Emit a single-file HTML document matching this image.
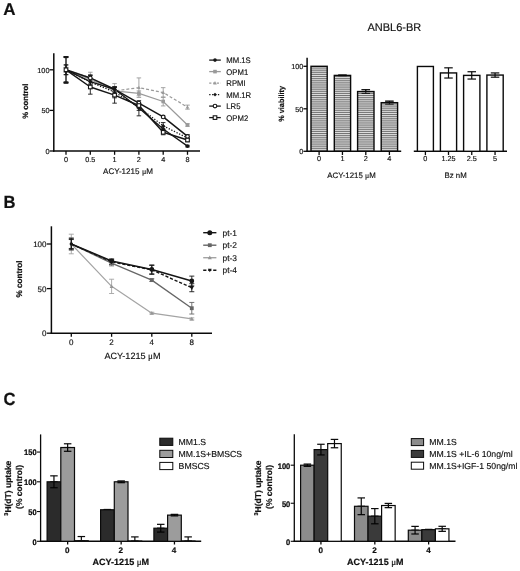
<!DOCTYPE html>
<html lang="en">
<head>
<meta charset="utf-8">
<title>Figure</title>
<style>
html,body{margin:0;padding:0;background:#fff;}
body{width:520px;height:571px;overflow:hidden;}
svg{display:block;font-family:'Liberation Sans', Arial, sans-serif;}
svg text{text-rendering:geometricPrecision;}
svg{will-change:transform;}
</style>
</head>
<body>
<svg width="520" height="571" viewBox="0 0 520 571">
<rect width="520" height="571" fill="#fff"/>
<text font-size="17" font-weight="bold" x="3.2" y="14.7" fill="#111" stroke="#111" stroke-width="0.2" >A</text>
<text font-size="17.6" font-weight="bold" textLength="12.0" lengthAdjust="spacingAndGlyphs" x="3.6" y="207.9" fill="#111" stroke="#111" stroke-width="0.2" >B</text>
<text font-size="17.6" font-weight="bold" textLength="12.0" lengthAdjust="spacingAndGlyphs" x="3.4" y="405.0" fill="#111" stroke="#111" stroke-width="0.2" >C</text>
<line x1="53.80" y1="53.30" x2="53.80" y2="151.70" stroke="#0a0a0a" stroke-width="1.5" stroke-linecap="butt"/>
<line x1="53.10" y1="151.00" x2="200.00" y2="151.00" stroke="#0a0a0a" stroke-width="1.5" stroke-linecap="butt"/>
<line x1="49.60" y1="151.00" x2="53.80" y2="151.00" stroke="#0a0a0a" stroke-width="1.3" stroke-linecap="butt"/>
<text font-size="7.3" text-anchor="end" x="49.5" y="154.0" fill="#111" stroke="#111" stroke-width="0.15" >0</text>
<line x1="49.60" y1="110.40" x2="53.80" y2="110.40" stroke="#0a0a0a" stroke-width="1.3" stroke-linecap="butt"/>
<text font-size="7.3" text-anchor="end" x="49.5" y="113.4" fill="#111" stroke="#111" stroke-width="0.15" >50</text>
<line x1="49.60" y1="69.80" x2="53.80" y2="69.80" stroke="#0a0a0a" stroke-width="1.3" stroke-linecap="butt"/>
<text font-size="7.3" text-anchor="end" x="49.5" y="72.8" fill="#111" stroke="#111" stroke-width="0.15" >100</text>
<line x1="66.00" y1="151.00" x2="66.00" y2="154.80" stroke="#0a0a0a" stroke-width="1.3" stroke-linecap="butt"/>
<text font-size="7.3" text-anchor="middle" x="66" y="161.7" fill="#111" stroke="#111" stroke-width="0.15" >0</text>
<line x1="90.30" y1="151.00" x2="90.30" y2="154.80" stroke="#0a0a0a" stroke-width="1.3" stroke-linecap="butt"/>
<text font-size="7.3" text-anchor="middle" x="90.3" y="161.7" fill="#111" stroke="#111" stroke-width="0.15" >0.5</text>
<line x1="114.60" y1="151.00" x2="114.60" y2="154.80" stroke="#0a0a0a" stroke-width="1.3" stroke-linecap="butt"/>
<text font-size="7.3" text-anchor="middle" x="114.6" y="161.7" fill="#111" stroke="#111" stroke-width="0.15" >1</text>
<line x1="138.90" y1="151.00" x2="138.90" y2="154.80" stroke="#0a0a0a" stroke-width="1.3" stroke-linecap="butt"/>
<text font-size="7.3" text-anchor="middle" x="138.9" y="161.7" fill="#111" stroke="#111" stroke-width="0.15" >2</text>
<line x1="163.20" y1="151.00" x2="163.20" y2="154.80" stroke="#0a0a0a" stroke-width="1.3" stroke-linecap="butt"/>
<text font-size="7.3" text-anchor="middle" x="163.2" y="161.7" fill="#111" stroke="#111" stroke-width="0.15" >4</text>
<line x1="187.50" y1="151.00" x2="187.50" y2="154.80" stroke="#0a0a0a" stroke-width="1.3" stroke-linecap="butt"/>
<text font-size="7.3" text-anchor="middle" x="187.5" y="161.7" fill="#111" stroke="#111" stroke-width="0.15" >8</text>
<text font-size="8.1" text-anchor="middle" x="128" y="174.2" fill="#111" stroke="#111" stroke-width="0.15" >ACY-1215 <tspan font-family="'Liberation Serif', 'DejaVu Serif', serif" font-weight="normal">μ</tspan>M</text>
<text font-size="7.75" font-weight="bold" text-anchor="middle" transform="translate(27.6 101.2) rotate(-90)" fill="#111" stroke="#111" stroke-width="0.2" >% control</text>
<line x1="66.00" y1="67.36" x2="66.00" y2="72.24" stroke="#9a9a9a" stroke-width="0.9" stroke-linecap="butt"/>
<line x1="63.75" y1="67.36" x2="68.25" y2="67.36" stroke="#9a9a9a" stroke-width="0.9" stroke-linecap="butt"/>
<line x1="63.75" y1="72.24" x2="68.25" y2="72.24" stroke="#9a9a9a" stroke-width="0.9" stroke-linecap="butt"/>
<line x1="90.30" y1="75.48" x2="90.30" y2="83.60" stroke="#9a9a9a" stroke-width="0.9" stroke-linecap="butt"/>
<line x1="88.05" y1="75.48" x2="92.55" y2="75.48" stroke="#9a9a9a" stroke-width="0.9" stroke-linecap="butt"/>
<line x1="88.05" y1="83.60" x2="92.55" y2="83.60" stroke="#9a9a9a" stroke-width="0.9" stroke-linecap="butt"/>
<line x1="114.60" y1="87.66" x2="114.60" y2="94.16" stroke="#9a9a9a" stroke-width="0.9" stroke-linecap="butt"/>
<line x1="112.35" y1="87.66" x2="116.85" y2="87.66" stroke="#9a9a9a" stroke-width="0.9" stroke-linecap="butt"/>
<line x1="112.35" y1="94.16" x2="116.85" y2="94.16" stroke="#9a9a9a" stroke-width="0.9" stroke-linecap="butt"/>
<line x1="138.90" y1="90.91" x2="138.90" y2="95.78" stroke="#9a9a9a" stroke-width="0.9" stroke-linecap="butt"/>
<line x1="136.65" y1="90.91" x2="141.15" y2="90.91" stroke="#9a9a9a" stroke-width="0.9" stroke-linecap="butt"/>
<line x1="136.65" y1="95.78" x2="141.15" y2="95.78" stroke="#9a9a9a" stroke-width="0.9" stroke-linecap="butt"/>
<line x1="163.20" y1="97.00" x2="163.20" y2="105.93" stroke="#9a9a9a" stroke-width="0.9" stroke-linecap="butt"/>
<line x1="160.95" y1="97.00" x2="165.45" y2="97.00" stroke="#9a9a9a" stroke-width="0.9" stroke-linecap="butt"/>
<line x1="160.95" y1="105.93" x2="165.45" y2="105.93" stroke="#9a9a9a" stroke-width="0.9" stroke-linecap="butt"/>
<line x1="187.50" y1="123.80" x2="187.50" y2="126.23" stroke="#9a9a9a" stroke-width="0.9" stroke-linecap="butt"/>
<line x1="185.25" y1="123.80" x2="189.75" y2="123.80" stroke="#9a9a9a" stroke-width="0.9" stroke-linecap="butt"/>
<line x1="185.25" y1="126.23" x2="189.75" y2="126.23" stroke="#9a9a9a" stroke-width="0.9" stroke-linecap="butt"/>
<line x1="66.00" y1="67.36" x2="66.00" y2="72.24" stroke="#9a9a9a" stroke-width="0.9" stroke-linecap="butt"/>
<line x1="63.75" y1="67.36" x2="68.25" y2="67.36" stroke="#9a9a9a" stroke-width="0.9" stroke-linecap="butt"/>
<line x1="63.75" y1="72.24" x2="68.25" y2="72.24" stroke="#9a9a9a" stroke-width="0.9" stroke-linecap="butt"/>
<line x1="90.30" y1="72.24" x2="90.30" y2="83.60" stroke="#9a9a9a" stroke-width="0.9" stroke-linecap="butt"/>
<line x1="88.05" y1="72.24" x2="92.55" y2="72.24" stroke="#9a9a9a" stroke-width="0.9" stroke-linecap="butt"/>
<line x1="88.05" y1="83.60" x2="92.55" y2="83.60" stroke="#9a9a9a" stroke-width="0.9" stroke-linecap="butt"/>
<line x1="114.60" y1="83.60" x2="114.60" y2="98.22" stroke="#9a9a9a" stroke-width="0.9" stroke-linecap="butt"/>
<line x1="112.35" y1="83.60" x2="116.85" y2="83.60" stroke="#9a9a9a" stroke-width="0.9" stroke-linecap="butt"/>
<line x1="112.35" y1="98.22" x2="116.85" y2="98.22" stroke="#9a9a9a" stroke-width="0.9" stroke-linecap="butt"/>
<line x1="138.90" y1="77.92" x2="138.90" y2="97.41" stroke="#9a9a9a" stroke-width="0.9" stroke-linecap="butt"/>
<line x1="136.65" y1="77.92" x2="141.15" y2="77.92" stroke="#9a9a9a" stroke-width="0.9" stroke-linecap="butt"/>
<line x1="136.65" y1="97.41" x2="141.15" y2="97.41" stroke="#9a9a9a" stroke-width="0.9" stroke-linecap="butt"/>
<line x1="163.20" y1="87.66" x2="163.20" y2="97.41" stroke="#9a9a9a" stroke-width="0.9" stroke-linecap="butt"/>
<line x1="160.95" y1="87.66" x2="165.45" y2="87.66" stroke="#9a9a9a" stroke-width="0.9" stroke-linecap="butt"/>
<line x1="160.95" y1="97.41" x2="165.45" y2="97.41" stroke="#9a9a9a" stroke-width="0.9" stroke-linecap="butt"/>
<line x1="187.50" y1="105.12" x2="187.50" y2="109.18" stroke="#9a9a9a" stroke-width="0.9" stroke-linecap="butt"/>
<line x1="185.25" y1="105.12" x2="189.75" y2="105.12" stroke="#9a9a9a" stroke-width="0.9" stroke-linecap="butt"/>
<line x1="185.25" y1="109.18" x2="189.75" y2="109.18" stroke="#9a9a9a" stroke-width="0.9" stroke-linecap="butt"/>
<line x1="66.00" y1="56.81" x2="66.00" y2="82.79" stroke="#161616" stroke-width="0.9" stroke-linecap="butt"/>
<line x1="63.75" y1="56.81" x2="68.25" y2="56.81" stroke="#161616" stroke-width="0.9" stroke-linecap="butt"/>
<line x1="63.75" y1="82.79" x2="68.25" y2="82.79" stroke="#161616" stroke-width="0.9" stroke-linecap="butt"/>
<line x1="63.70" y1="57.11" x2="68.30" y2="57.11" stroke="#161616" stroke-width="1.9" stroke-linecap="butt"/>
<line x1="63.70" y1="82.49" x2="68.30" y2="82.49" stroke="#161616" stroke-width="1.9" stroke-linecap="butt"/>
<line x1="90.30" y1="78.33" x2="90.30" y2="84.82" stroke="#161616" stroke-width="0.9" stroke-linecap="butt"/>
<line x1="88.05" y1="78.33" x2="92.55" y2="78.33" stroke="#161616" stroke-width="0.9" stroke-linecap="butt"/>
<line x1="88.05" y1="84.82" x2="92.55" y2="84.82" stroke="#161616" stroke-width="0.9" stroke-linecap="butt"/>
<line x1="114.60" y1="86.85" x2="114.60" y2="91.72" stroke="#161616" stroke-width="0.9" stroke-linecap="butt"/>
<line x1="112.35" y1="86.85" x2="116.85" y2="86.85" stroke="#161616" stroke-width="0.9" stroke-linecap="butt"/>
<line x1="112.35" y1="91.72" x2="116.85" y2="91.72" stroke="#161616" stroke-width="0.9" stroke-linecap="butt"/>
<line x1="138.90" y1="105.53" x2="138.90" y2="110.40" stroke="#161616" stroke-width="0.9" stroke-linecap="butt"/>
<line x1="136.65" y1="105.53" x2="141.15" y2="105.53" stroke="#161616" stroke-width="0.9" stroke-linecap="butt"/>
<line x1="136.65" y1="110.40" x2="141.15" y2="110.40" stroke="#161616" stroke-width="0.9" stroke-linecap="butt"/>
<line x1="163.20" y1="126.64" x2="163.20" y2="131.51" stroke="#161616" stroke-width="0.9" stroke-linecap="butt"/>
<line x1="160.95" y1="126.64" x2="165.45" y2="126.64" stroke="#161616" stroke-width="0.9" stroke-linecap="butt"/>
<line x1="160.95" y1="131.51" x2="165.45" y2="131.51" stroke="#161616" stroke-width="0.9" stroke-linecap="butt"/>
<line x1="187.50" y1="145.32" x2="187.50" y2="146.94" stroke="#161616" stroke-width="0.9" stroke-linecap="butt"/>
<line x1="185.25" y1="145.32" x2="189.75" y2="145.32" stroke="#161616" stroke-width="0.9" stroke-linecap="butt"/>
<line x1="185.25" y1="146.94" x2="189.75" y2="146.94" stroke="#161616" stroke-width="0.9" stroke-linecap="butt"/>
<line x1="66.00" y1="56.81" x2="66.00" y2="82.79" stroke="#161616" stroke-width="0.9" stroke-linecap="butt"/>
<line x1="63.75" y1="56.81" x2="68.25" y2="56.81" stroke="#161616" stroke-width="0.9" stroke-linecap="butt"/>
<line x1="63.75" y1="82.79" x2="68.25" y2="82.79" stroke="#161616" stroke-width="0.9" stroke-linecap="butt"/>
<line x1="63.70" y1="57.11" x2="68.30" y2="57.11" stroke="#161616" stroke-width="1.9" stroke-linecap="butt"/>
<line x1="63.70" y1="82.49" x2="68.30" y2="82.49" stroke="#161616" stroke-width="1.9" stroke-linecap="butt"/>
<line x1="90.30" y1="75.48" x2="90.30" y2="88.48" stroke="#161616" stroke-width="0.9" stroke-linecap="butt"/>
<line x1="88.05" y1="75.48" x2="92.55" y2="75.48" stroke="#161616" stroke-width="0.9" stroke-linecap="butt"/>
<line x1="88.05" y1="88.48" x2="92.55" y2="88.48" stroke="#161616" stroke-width="0.9" stroke-linecap="butt"/>
<line x1="114.60" y1="87.26" x2="114.60" y2="97.00" stroke="#161616" stroke-width="0.9" stroke-linecap="butt"/>
<line x1="112.35" y1="87.26" x2="116.85" y2="87.26" stroke="#161616" stroke-width="0.9" stroke-linecap="butt"/>
<line x1="112.35" y1="97.00" x2="116.85" y2="97.00" stroke="#161616" stroke-width="0.9" stroke-linecap="butt"/>
<line x1="138.90" y1="107.15" x2="138.90" y2="115.84" stroke="#161616" stroke-width="0.9" stroke-linecap="butt"/>
<line x1="136.65" y1="115.84" x2="141.15" y2="115.84" stroke="#161616" stroke-width="0.9" stroke-linecap="butt"/>
<line x1="163.20" y1="122.58" x2="163.20" y2="129.08" stroke="#161616" stroke-width="0.9" stroke-linecap="butt"/>
<line x1="160.95" y1="122.58" x2="165.45" y2="122.58" stroke="#161616" stroke-width="0.9" stroke-linecap="butt"/>
<line x1="160.95" y1="129.08" x2="165.45" y2="129.08" stroke="#161616" stroke-width="0.9" stroke-linecap="butt"/>
<line x1="187.50" y1="136.38" x2="187.50" y2="139.63" stroke="#161616" stroke-width="0.9" stroke-linecap="butt"/>
<line x1="185.25" y1="136.38" x2="189.75" y2="136.38" stroke="#161616" stroke-width="0.9" stroke-linecap="butt"/>
<line x1="185.25" y1="139.63" x2="189.75" y2="139.63" stroke="#161616" stroke-width="0.9" stroke-linecap="butt"/>
<line x1="66.00" y1="64.93" x2="66.00" y2="74.67" stroke="#161616" stroke-width="0.9" stroke-linecap="butt"/>
<line x1="63.75" y1="64.93" x2="68.25" y2="64.93" stroke="#161616" stroke-width="0.9" stroke-linecap="butt"/>
<line x1="63.75" y1="74.67" x2="68.25" y2="74.67" stroke="#161616" stroke-width="0.9" stroke-linecap="butt"/>
<line x1="90.30" y1="74.83" x2="90.30" y2="81.01" stroke="#161616" stroke-width="0.9" stroke-linecap="butt"/>
<line x1="88.05" y1="74.83" x2="92.55" y2="74.83" stroke="#161616" stroke-width="0.9" stroke-linecap="butt"/>
<line x1="88.05" y1="81.01" x2="92.55" y2="81.01" stroke="#161616" stroke-width="0.9" stroke-linecap="butt"/>
<line x1="114.60" y1="86.85" x2="114.60" y2="91.72" stroke="#161616" stroke-width="0.9" stroke-linecap="butt"/>
<line x1="112.35" y1="86.85" x2="116.85" y2="86.85" stroke="#161616" stroke-width="0.9" stroke-linecap="butt"/>
<line x1="112.35" y1="91.72" x2="116.85" y2="91.72" stroke="#161616" stroke-width="0.9" stroke-linecap="butt"/>
<line x1="138.90" y1="100.66" x2="138.90" y2="105.53" stroke="#161616" stroke-width="0.9" stroke-linecap="butt"/>
<line x1="136.65" y1="100.66" x2="141.15" y2="100.66" stroke="#161616" stroke-width="0.9" stroke-linecap="butt"/>
<line x1="136.65" y1="105.53" x2="141.15" y2="105.53" stroke="#161616" stroke-width="0.9" stroke-linecap="butt"/>
<line x1="163.20" y1="116.08" x2="163.20" y2="117.71" stroke="#161616" stroke-width="0.9" stroke-linecap="butt"/>
<line x1="160.95" y1="116.08" x2="165.45" y2="116.08" stroke="#161616" stroke-width="0.9" stroke-linecap="butt"/>
<line x1="160.95" y1="117.71" x2="165.45" y2="117.71" stroke="#161616" stroke-width="0.9" stroke-linecap="butt"/>
<line x1="187.50" y1="134.76" x2="187.50" y2="138.01" stroke="#161616" stroke-width="0.9" stroke-linecap="butt"/>
<line x1="185.25" y1="134.76" x2="189.75" y2="134.76" stroke="#161616" stroke-width="0.9" stroke-linecap="butt"/>
<line x1="185.25" y1="138.01" x2="189.75" y2="138.01" stroke="#161616" stroke-width="0.9" stroke-linecap="butt"/>
<line x1="66.00" y1="64.93" x2="66.00" y2="74.67" stroke="#161616" stroke-width="0.9" stroke-linecap="butt"/>
<line x1="63.75" y1="64.93" x2="68.25" y2="64.93" stroke="#161616" stroke-width="0.9" stroke-linecap="butt"/>
<line x1="63.75" y1="74.67" x2="68.25" y2="74.67" stroke="#161616" stroke-width="0.9" stroke-linecap="butt"/>
<line x1="90.30" y1="79.87" x2="90.30" y2="94.16" stroke="#161616" stroke-width="0.9" stroke-linecap="butt"/>
<line x1="88.05" y1="79.87" x2="92.55" y2="79.87" stroke="#161616" stroke-width="0.9" stroke-linecap="butt"/>
<line x1="88.05" y1="94.16" x2="92.55" y2="94.16" stroke="#161616" stroke-width="0.9" stroke-linecap="butt"/>
<line x1="114.60" y1="87.10" x2="114.60" y2="103.17" stroke="#161616" stroke-width="0.9" stroke-linecap="butt"/>
<line x1="112.35" y1="87.10" x2="116.85" y2="87.10" stroke="#161616" stroke-width="0.9" stroke-linecap="butt"/>
<line x1="112.35" y1="103.17" x2="116.85" y2="103.17" stroke="#161616" stroke-width="0.9" stroke-linecap="butt"/>
<line x1="138.90" y1="103.09" x2="138.90" y2="107.96" stroke="#161616" stroke-width="0.9" stroke-linecap="butt"/>
<line x1="136.65" y1="103.09" x2="141.15" y2="103.09" stroke="#161616" stroke-width="0.9" stroke-linecap="butt"/>
<line x1="136.65" y1="107.96" x2="141.15" y2="107.96" stroke="#161616" stroke-width="0.9" stroke-linecap="butt"/>
<line x1="163.20" y1="129.89" x2="163.20" y2="134.76" stroke="#161616" stroke-width="0.9" stroke-linecap="butt"/>
<line x1="160.95" y1="129.89" x2="165.45" y2="129.89" stroke="#161616" stroke-width="0.9" stroke-linecap="butt"/>
<line x1="160.95" y1="134.76" x2="165.45" y2="134.76" stroke="#161616" stroke-width="0.9" stroke-linecap="butt"/>
<line x1="187.50" y1="138.41" x2="187.50" y2="141.66" stroke="#161616" stroke-width="0.9" stroke-linecap="butt"/>
<line x1="185.25" y1="138.41" x2="189.75" y2="138.41" stroke="#161616" stroke-width="0.9" stroke-linecap="butt"/>
<line x1="185.25" y1="141.66" x2="189.75" y2="141.66" stroke="#161616" stroke-width="0.9" stroke-linecap="butt"/>
<polyline points="66.00,69.80 90.30,79.54 114.60,90.91 138.90,93.35 163.20,101.47 187.50,125.02" fill="none" stroke="#9a9a9a" stroke-width="1.2" stroke-linejoin="round"/>
<polyline points="66.00,69.80 90.30,77.92 114.60,90.91 138.90,87.66 163.20,92.54 187.50,107.15" fill="none" stroke="#9a9a9a" stroke-width="1.2" stroke-dasharray="3 2" stroke-linejoin="round"/>
<polyline points="66.00,69.80 90.30,81.57 114.60,89.29 138.90,107.96 163.20,129.08 187.50,146.13" fill="none" stroke="#161616" stroke-width="1.3" stroke-linejoin="round"/>
<polyline points="66.00,69.80 90.30,81.98 114.60,92.13 138.90,107.15 163.20,125.83 187.50,138.01" fill="none" stroke="#161616" stroke-width="1.3" stroke-dasharray="1.3 1.6" stroke-linejoin="round"/>
<polyline points="66.00,69.80 90.30,77.92 114.60,89.29 138.90,103.09 163.20,116.90 187.50,136.38" fill="none" stroke="#161616" stroke-width="1.5" stroke-linejoin="round"/>
<polyline points="66.00,69.80 90.30,87.01 114.60,95.13 138.90,105.53 163.20,132.32 187.50,140.04" fill="none" stroke="#161616" stroke-width="1.5" stroke-linejoin="round"/>
<rect x="88.50" y="77.74" width="3.6" height="3.6" fill="#9a9a9a"/>
<rect x="112.80" y="89.11" width="3.6" height="3.6" fill="#9a9a9a"/>
<rect x="137.10" y="91.55" width="3.6" height="3.6" fill="#9a9a9a"/>
<rect x="161.40" y="99.67" width="3.6" height="3.6" fill="#9a9a9a"/>
<rect x="185.70" y="123.22" width="3.6" height="3.6" fill="#9a9a9a"/>
<polygon points="90.30,75.94 92.10,79.36 88.50,79.36" fill="#9a9a9a"/>
<polygon points="114.60,88.93 116.40,92.35 112.80,92.35" fill="#9a9a9a"/>
<polygon points="138.90,85.68 140.70,89.10 137.10,89.10" fill="#9a9a9a"/>
<polygon points="163.20,90.56 165.00,93.98 161.40,93.98" fill="#9a9a9a"/>
<polygon points="187.50,105.17 189.30,108.59 185.70,108.59" fill="#9a9a9a"/>
<circle cx="90.30" cy="81.57" r="1.8" fill="#161616"/>
<circle cx="114.60" cy="89.29" r="1.8" fill="#161616"/>
<circle cx="138.90" cy="107.96" r="1.8" fill="#161616"/>
<circle cx="163.20" cy="129.08" r="1.8" fill="#161616"/>
<circle cx="187.50" cy="146.13" r="1.8" fill="#161616"/>
<polygon points="90.30,80.18 92.10,81.98 90.30,83.78 88.50,81.98" fill="#161616"/>
<polygon points="114.60,90.33 116.40,92.13 114.60,93.93 112.80,92.13" fill="#161616"/>
<polygon points="138.90,105.35 140.70,107.15 138.90,108.95 137.10,107.15" fill="#161616"/>
<polygon points="163.20,124.03 165.00,125.83 163.20,127.63 161.40,125.83" fill="#161616"/>
<polygon points="187.50,136.21 189.30,138.01 187.50,139.81 185.70,138.01" fill="#161616"/>
<circle cx="90.30" cy="77.92" r="1.8" fill="#fff" stroke="#161616" stroke-width="1.1"/>
<circle cx="114.60" cy="89.29" r="1.8" fill="#161616"/>
<circle cx="138.90" cy="103.09" r="1.8" fill="#fff" stroke="#161616" stroke-width="1.1"/>
<circle cx="163.20" cy="116.90" r="1.8" fill="#fff" stroke="#161616" stroke-width="1.1"/>
<circle cx="187.50" cy="136.38" r="1.8" fill="#fff" stroke="#161616" stroke-width="1.1"/>
<rect x="64.20" y="68.00" width="3.6" height="3.6" fill="#fff" stroke="#161616" stroke-width="1.1"/>
<rect x="88.50" y="85.21" width="3.6" height="3.6" fill="#fff" stroke="#161616" stroke-width="1.1"/>
<rect x="112.80" y="93.33" width="3.6" height="3.6" fill="#fff" stroke="#161616" stroke-width="1.1"/>
<rect x="137.10" y="103.73" width="3.6" height="3.6" fill="#fff" stroke="#161616" stroke-width="1.1"/>
<rect x="161.40" y="130.52" width="3.6" height="3.6" fill="#fff" stroke="#161616" stroke-width="1.1"/>
<rect x="185.70" y="138.24" width="3.6" height="3.6" fill="#fff" stroke="#161616" stroke-width="1.1"/>
<line x1="209.20" y1="60.10" x2="220.80" y2="60.10" stroke="#161616" stroke-width="1.3" stroke-linecap="butt"/>
<circle cx="215.00" cy="60.10" r="1.8" fill="#161616"/>
<text font-size="8.1" transform="translate(226.3 63.0) scale(0.955 1)" fill="#111" stroke="#111" stroke-width="0.15" >MM.1S</text>
<line x1="209.20" y1="71.60" x2="220.80" y2="71.60" stroke="#9a9a9a" stroke-width="1.3" stroke-linecap="butt"/>
<rect x="213.20" y="69.80" width="3.6" height="3.6" fill="#9a9a9a"/>
<text font-size="8.1" transform="translate(226.3 74.5) scale(0.955 1)" fill="#111" stroke="#111" stroke-width="0.15" >OPM1</text>
<line x1="209.20" y1="83.10" x2="220.80" y2="83.10" stroke="#9a9a9a" stroke-width="1.3" stroke-dasharray="2.2 1.6" stroke-linecap="butt"/>
<polygon points="215.00,81.12 216.80,84.54 213.20,84.54" fill="#9a9a9a"/>
<text font-size="8.1" transform="translate(226.3 86.0) scale(0.955 1)" fill="#111" stroke="#111" stroke-width="0.15" >RPMI</text>
<line x1="209.20" y1="94.60" x2="220.80" y2="94.60" stroke="#161616" stroke-width="1.3" stroke-dasharray="1.3 1.6" stroke-linecap="butt"/>
<polygon points="215.00,92.80 216.80,94.60 215.00,96.40 213.20,94.60" fill="#161616"/>
<text font-size="8.1" transform="translate(226.3 97.5) scale(0.955 1)" fill="#111" stroke="#111" stroke-width="0.15" >MM.1R</text>
<line x1="209.20" y1="106.10" x2="220.80" y2="106.10" stroke="#161616" stroke-width="1.3" stroke-linecap="butt"/>
<circle cx="215.00" cy="106.10" r="1.8" fill="#fff" stroke="#161616" stroke-width="1.1"/>
<text font-size="8.1" transform="translate(226.3 109.0) scale(0.955 1)" fill="#111" stroke="#111" stroke-width="0.15" >LR5</text>
<line x1="209.20" y1="117.60" x2="220.80" y2="117.60" stroke="#161616" stroke-width="1.3" stroke-linecap="butt"/>
<rect x="213.20" y="115.80" width="3.6" height="3.6" fill="#fff" stroke="#161616" stroke-width="1.1"/>
<text font-size="8.1" transform="translate(226.3 120.5) scale(0.955 1)" fill="#111" stroke="#111" stroke-width="0.15" >OPM2</text>
<text font-size="11" text-anchor="middle" x="394.4" y="30.8" fill="#111" stroke="#111" stroke-width="0.15" >ANBL6-BR</text>
<defs><pattern id="hz" width="4" height="1.9" patternUnits="userSpaceOnUse"><rect width="4" height="1.9" fill="#e0e0e0"/><rect y="0" width="4" height="0.8" fill="#5c5c5c"/></pattern></defs>
<line x1="307.10" y1="57.80" x2="307.10" y2="152.00" stroke="#0a0a0a" stroke-width="1.5" stroke-linecap="butt"/>
<line x1="306.40" y1="151.30" x2="401.20" y2="151.30" stroke="#0a0a0a" stroke-width="1.6" stroke-linecap="butt"/>
<line x1="303.40" y1="151.30" x2="307.10" y2="151.30" stroke="#0a0a0a" stroke-width="1.3" stroke-linecap="butt"/>
<text font-size="7.3" text-anchor="end" x="303.40000000000003" y="154.20000000000002" fill="#111" stroke="#111" stroke-width="0.15" >0</text>
<line x1="303.40" y1="108.80" x2="307.10" y2="108.80" stroke="#0a0a0a" stroke-width="1.3" stroke-linecap="butt"/>
<text font-size="7.3" text-anchor="end" x="303.40000000000003" y="111.70000000000002" fill="#111" stroke="#111" stroke-width="0.15" >50</text>
<line x1="303.40" y1="66.30" x2="307.10" y2="66.30" stroke="#0a0a0a" stroke-width="1.3" stroke-linecap="butt"/>
<text font-size="7.3" text-anchor="end" x="303.40000000000003" y="69.20000000000002" fill="#111" stroke="#111" stroke-width="0.15" >100</text>
<rect x="311" y="66.30" width="16.20" height="85.00" fill="url(#hz)" stroke="#0a0a0a" stroke-width="1.4"/>
<line x1="319.10" y1="151.30" x2="319.10" y2="155.00" stroke="#0a0a0a" stroke-width="1.3" stroke-linecap="butt"/>
<text font-size="7.3" text-anchor="middle" x="319.1" y="161.3" fill="#111" stroke="#111" stroke-width="0.15" >0</text>
<line x1="342.45" y1="75.06" x2="342.45" y2="75.74" stroke="#0a0a0a" stroke-width="0.9" stroke-linecap="butt"/>
<line x1="338.20" y1="75.06" x2="346.70" y2="75.06" stroke="#0a0a0a" stroke-width="0.9" stroke-linecap="butt"/>
<line x1="338.20" y1="75.74" x2="346.70" y2="75.74" stroke="#0a0a0a" stroke-width="0.9" stroke-linecap="butt"/>
<rect x="334.3" y="75.40" width="16.30" height="75.91" fill="url(#hz)" stroke="#0a0a0a" stroke-width="1.4"/>
<line x1="342.45" y1="75.06" x2="342.45" y2="75.74" stroke="#0a0a0a" stroke-width="0.9" stroke-linecap="butt"/>
<line x1="338.20" y1="75.06" x2="346.70" y2="75.06" stroke="#0a0a0a" stroke-width="0.9" stroke-linecap="butt"/>
<line x1="338.20" y1="75.74" x2="346.70" y2="75.74" stroke="#0a0a0a" stroke-width="0.9" stroke-linecap="butt"/>
<line x1="342.45" y1="151.30" x2="342.45" y2="155.00" stroke="#0a0a0a" stroke-width="1.3" stroke-linecap="butt"/>
<text font-size="7.3" text-anchor="middle" x="342.45000000000005" y="161.3" fill="#111" stroke="#111" stroke-width="0.15" >1</text>
<line x1="365.80" y1="89.68" x2="365.80" y2="93.42" stroke="#0a0a0a" stroke-width="0.9" stroke-linecap="butt"/>
<line x1="361.55" y1="89.68" x2="370.05" y2="89.68" stroke="#0a0a0a" stroke-width="0.9" stroke-linecap="butt"/>
<line x1="361.55" y1="93.42" x2="370.05" y2="93.42" stroke="#0a0a0a" stroke-width="0.9" stroke-linecap="butt"/>
<rect x="357.6" y="91.55" width="16.40" height="59.75" fill="url(#hz)" stroke="#0a0a0a" stroke-width="1.4"/>
<line x1="365.80" y1="89.68" x2="365.80" y2="93.42" stroke="#0a0a0a" stroke-width="0.9" stroke-linecap="butt"/>
<line x1="361.55" y1="89.68" x2="370.05" y2="89.68" stroke="#0a0a0a" stroke-width="0.9" stroke-linecap="butt"/>
<line x1="361.55" y1="93.42" x2="370.05" y2="93.42" stroke="#0a0a0a" stroke-width="0.9" stroke-linecap="butt"/>
<line x1="365.80" y1="151.30" x2="365.80" y2="155.00" stroke="#0a0a0a" stroke-width="1.3" stroke-linecap="butt"/>
<text font-size="7.3" text-anchor="middle" x="365.8" y="161.3" fill="#111" stroke="#111" stroke-width="0.15" >2</text>
<line x1="389.40" y1="101.15" x2="389.40" y2="104.21" stroke="#0a0a0a" stroke-width="0.9" stroke-linecap="butt"/>
<line x1="385.15" y1="101.15" x2="393.65" y2="101.15" stroke="#0a0a0a" stroke-width="0.9" stroke-linecap="butt"/>
<line x1="385.15" y1="104.21" x2="393.65" y2="104.21" stroke="#0a0a0a" stroke-width="0.9" stroke-linecap="butt"/>
<rect x="381.2" y="102.68" width="16.40" height="48.62" fill="url(#hz)" stroke="#0a0a0a" stroke-width="1.4"/>
<line x1="389.40" y1="101.15" x2="389.40" y2="104.21" stroke="#0a0a0a" stroke-width="0.9" stroke-linecap="butt"/>
<line x1="385.15" y1="101.15" x2="393.65" y2="101.15" stroke="#0a0a0a" stroke-width="0.9" stroke-linecap="butt"/>
<line x1="385.15" y1="104.21" x2="393.65" y2="104.21" stroke="#0a0a0a" stroke-width="0.9" stroke-linecap="butt"/>
<line x1="389.40" y1="151.30" x2="389.40" y2="155.00" stroke="#0a0a0a" stroke-width="1.3" stroke-linecap="butt"/>
<text font-size="7.3" text-anchor="middle" x="389.4" y="161.3" fill="#111" stroke="#111" stroke-width="0.15" >4</text>
<text font-size="7.85" text-anchor="middle" x="351.5" y="178.4" fill="#111" stroke="#111" stroke-width="0.15" >ACY-1215 <tspan font-family="'Liberation Serif', 'DejaVu Serif', serif" font-weight="normal">μ</tspan>M</text>
<text font-size="7.6" font-weight="bold" text-anchor="middle" textLength="35.8" lengthAdjust="spacingAndGlyphs" transform="translate(284.4 103.9) rotate(-90)" fill="#111" stroke="#111" stroke-width="0.2" >% viability</text>
<line x1="413.80" y1="151.30" x2="507.00" y2="151.30" stroke="#0a0a0a" stroke-width="1.6" stroke-linecap="butt"/>
<rect x="417.4" y="66.47" width="16.00" height="84.83" fill="#fff" stroke="#0a0a0a" stroke-width="1.4"/>
<line x1="425.40" y1="151.30" x2="425.40" y2="155.00" stroke="#0a0a0a" stroke-width="1.3" stroke-linecap="butt"/>
<text font-size="7.3" text-anchor="middle" x="425.4" y="161.3" fill="#111" stroke="#111" stroke-width="0.15" >0</text>
<rect x="440.4" y="72.93" width="16.20" height="78.37" fill="#fff" stroke="#0a0a0a" stroke-width="1.4"/>
<line x1="448.50" y1="67.83" x2="448.50" y2="78.03" stroke="#0a0a0a" stroke-width="1.2" stroke-linecap="butt"/>
<line x1="444.25" y1="67.83" x2="452.75" y2="67.83" stroke="#0a0a0a" stroke-width="1.2" stroke-linecap="butt"/>
<line x1="444.25" y1="78.03" x2="452.75" y2="78.03" stroke="#0a0a0a" stroke-width="1.2" stroke-linecap="butt"/>
<line x1="448.50" y1="151.30" x2="448.50" y2="155.00" stroke="#0a0a0a" stroke-width="1.3" stroke-linecap="butt"/>
<text font-size="7.3" text-anchor="middle" x="448.5" y="161.3" fill="#111" stroke="#111" stroke-width="0.15" >1.25</text>
<rect x="463.6" y="75.40" width="16.30" height="75.91" fill="#fff" stroke="#0a0a0a" stroke-width="1.4"/>
<line x1="471.75" y1="71.74" x2="471.75" y2="79.05" stroke="#0a0a0a" stroke-width="1.2" stroke-linecap="butt"/>
<line x1="467.50" y1="71.74" x2="476.00" y2="71.74" stroke="#0a0a0a" stroke-width="1.2" stroke-linecap="butt"/>
<line x1="467.50" y1="79.05" x2="476.00" y2="79.05" stroke="#0a0a0a" stroke-width="1.2" stroke-linecap="butt"/>
<line x1="471.75" y1="151.30" x2="471.75" y2="155.00" stroke="#0a0a0a" stroke-width="1.3" stroke-linecap="butt"/>
<text font-size="7.3" text-anchor="middle" x="471.75" y="161.3" fill="#111" stroke="#111" stroke-width="0.15" >2.5</text>
<rect x="486.9" y="75.06" width="16.30" height="76.25" fill="#fff" stroke="#0a0a0a" stroke-width="1.4"/>
<line x1="495.05" y1="72.93" x2="495.05" y2="77.18" stroke="#0a0a0a" stroke-width="1.2" stroke-linecap="butt"/>
<line x1="490.80" y1="72.93" x2="499.30" y2="72.93" stroke="#0a0a0a" stroke-width="1.2" stroke-linecap="butt"/>
<line x1="490.80" y1="77.18" x2="499.30" y2="77.18" stroke="#0a0a0a" stroke-width="1.2" stroke-linecap="butt"/>
<line x1="495.05" y1="151.30" x2="495.05" y2="155.00" stroke="#0a0a0a" stroke-width="1.3" stroke-linecap="butt"/>
<text font-size="7.3" text-anchor="middle" x="495.04999999999995" y="161.3" fill="#111" stroke="#111" stroke-width="0.15" >5</text>
<text font-size="7.85" text-anchor="middle" x="455.6" y="178.4" fill="#111" stroke="#111" stroke-width="0.15" >Bz nM</text>
<line x1="51.40" y1="226.30" x2="51.40" y2="333.90" stroke="#0a0a0a" stroke-width="1.5" stroke-linecap="butt"/>
<line x1="50.70" y1="333.20" x2="212.00" y2="333.20" stroke="#0a0a0a" stroke-width="1.5" stroke-linecap="butt"/>
<line x1="46.80" y1="333.20" x2="51.40" y2="333.20" stroke="#0a0a0a" stroke-width="1.3" stroke-linecap="butt"/>
<text font-size="8" text-anchor="end" x="46.5" y="336.4" fill="#111" stroke="#111" stroke-width="0.15" >0</text>
<line x1="46.80" y1="288.60" x2="51.40" y2="288.60" stroke="#0a0a0a" stroke-width="1.3" stroke-linecap="butt"/>
<text font-size="8" text-anchor="end" x="46.5" y="291.79999999999995" fill="#111" stroke="#111" stroke-width="0.15" >50</text>
<line x1="46.80" y1="244.00" x2="51.40" y2="244.00" stroke="#0a0a0a" stroke-width="1.3" stroke-linecap="butt"/>
<text font-size="8" text-anchor="end" x="46.5" y="247.2" fill="#111" stroke="#111" stroke-width="0.15" >100</text>
<line x1="71.30" y1="333.20" x2="71.30" y2="336.80" stroke="#0a0a0a" stroke-width="1.3" stroke-linecap="butt"/>
<text font-size="8" text-anchor="middle" x="71.3" y="344.59999999999997" fill="#111" stroke="#111" stroke-width="0.15" >0</text>
<line x1="111.60" y1="333.20" x2="111.60" y2="336.80" stroke="#0a0a0a" stroke-width="1.3" stroke-linecap="butt"/>
<text font-size="8" text-anchor="middle" x="111.6" y="344.59999999999997" fill="#111" stroke="#111" stroke-width="0.15" >2</text>
<line x1="151.80" y1="333.20" x2="151.80" y2="336.80" stroke="#0a0a0a" stroke-width="1.3" stroke-linecap="butt"/>
<text font-size="8" text-anchor="middle" x="151.8" y="344.59999999999997" fill="#111" stroke="#111" stroke-width="0.15" >4</text>
<line x1="191.80" y1="333.20" x2="191.80" y2="336.80" stroke="#0a0a0a" stroke-width="1.3" stroke-linecap="butt"/>
<text font-size="8" text-anchor="middle" x="191.8" y="344.59999999999997" fill="#111" stroke="#111" stroke-width="0.15" >8</text>
<text font-size="9.1" text-anchor="middle" x="132.5" y="359.3" fill="#111" stroke="#111" stroke-width="0.15" >ACY-1215 <tspan font-family="'Liberation Serif', 'DejaVu Serif', serif" font-weight="normal">μ</tspan>M</text>
<text font-size="8.15" font-weight="bold" text-anchor="middle" transform="translate(21.9 279) rotate(-90)" fill="#111" stroke="#111" stroke-width="0.2" >% control</text>
<line x1="71.30" y1="234.19" x2="71.30" y2="253.81" stroke="#a4a4a4" stroke-width="0.9" stroke-linecap="butt"/>
<line x1="68.80" y1="234.19" x2="73.80" y2="234.19" stroke="#a4a4a4" stroke-width="0.9" stroke-linecap="butt"/>
<line x1="68.80" y1="253.81" x2="73.80" y2="253.81" stroke="#a4a4a4" stroke-width="0.9" stroke-linecap="butt"/>
<line x1="111.60" y1="279.23" x2="111.60" y2="293.51" stroke="#a4a4a4" stroke-width="0.9" stroke-linecap="butt"/>
<line x1="109.10" y1="279.23" x2="114.10" y2="279.23" stroke="#a4a4a4" stroke-width="0.9" stroke-linecap="butt"/>
<line x1="109.10" y1="293.51" x2="114.10" y2="293.51" stroke="#a4a4a4" stroke-width="0.9" stroke-linecap="butt"/>
<line x1="151.80" y1="312.24" x2="151.80" y2="314.02" stroke="#a4a4a4" stroke-width="0.9" stroke-linecap="butt"/>
<line x1="149.30" y1="312.24" x2="154.30" y2="312.24" stroke="#a4a4a4" stroke-width="0.9" stroke-linecap="butt"/>
<line x1="149.30" y1="314.02" x2="154.30" y2="314.02" stroke="#a4a4a4" stroke-width="0.9" stroke-linecap="butt"/>
<line x1="191.80" y1="317.86" x2="191.80" y2="320.00" stroke="#a4a4a4" stroke-width="0.9" stroke-linecap="butt"/>
<line x1="189.30" y1="317.86" x2="194.30" y2="317.86" stroke="#a4a4a4" stroke-width="0.9" stroke-linecap="butt"/>
<line x1="189.30" y1="320.00" x2="194.30" y2="320.00" stroke="#a4a4a4" stroke-width="0.9" stroke-linecap="butt"/>
<line x1="71.30" y1="237.76" x2="71.30" y2="250.24" stroke="#666" stroke-width="0.9" stroke-linecap="butt"/>
<line x1="68.80" y1="237.76" x2="73.80" y2="237.76" stroke="#666" stroke-width="0.9" stroke-linecap="butt"/>
<line x1="68.80" y1="250.24" x2="73.80" y2="250.24" stroke="#666" stroke-width="0.9" stroke-linecap="butt"/>
<line x1="111.60" y1="260.50" x2="111.60" y2="265.85" stroke="#666" stroke-width="0.9" stroke-linecap="butt"/>
<line x1="109.10" y1="260.50" x2="114.10" y2="260.50" stroke="#666" stroke-width="0.9" stroke-linecap="butt"/>
<line x1="109.10" y1="265.85" x2="114.10" y2="265.85" stroke="#666" stroke-width="0.9" stroke-linecap="butt"/>
<line x1="151.80" y1="278.79" x2="151.80" y2="281.46" stroke="#666" stroke-width="0.9" stroke-linecap="butt"/>
<line x1="149.30" y1="278.79" x2="154.30" y2="278.79" stroke="#666" stroke-width="0.9" stroke-linecap="butt"/>
<line x1="149.30" y1="281.46" x2="154.30" y2="281.46" stroke="#666" stroke-width="0.9" stroke-linecap="butt"/>
<line x1="191.80" y1="302.43" x2="191.80" y2="314.02" stroke="#666" stroke-width="0.9" stroke-linecap="butt"/>
<line x1="189.30" y1="302.43" x2="194.30" y2="302.43" stroke="#666" stroke-width="0.9" stroke-linecap="butt"/>
<line x1="189.30" y1="314.02" x2="194.30" y2="314.02" stroke="#666" stroke-width="0.9" stroke-linecap="butt"/>
<line x1="71.30" y1="238.65" x2="71.30" y2="249.35" stroke="#161616" stroke-width="0.9" stroke-linecap="butt"/>
<line x1="68.80" y1="238.65" x2="73.80" y2="238.65" stroke="#161616" stroke-width="0.9" stroke-linecap="butt"/>
<line x1="68.80" y1="249.35" x2="73.80" y2="249.35" stroke="#161616" stroke-width="0.9" stroke-linecap="butt"/>
<line x1="111.60" y1="259.16" x2="111.60" y2="264.52" stroke="#161616" stroke-width="0.9" stroke-linecap="butt"/>
<line x1="109.10" y1="259.16" x2="114.10" y2="259.16" stroke="#161616" stroke-width="0.9" stroke-linecap="butt"/>
<line x1="109.10" y1="264.52" x2="114.10" y2="264.52" stroke="#161616" stroke-width="0.9" stroke-linecap="butt"/>
<line x1="151.80" y1="265.41" x2="151.80" y2="274.33" stroke="#161616" stroke-width="0.9" stroke-linecap="butt"/>
<line x1="149.30" y1="265.41" x2="154.30" y2="265.41" stroke="#161616" stroke-width="0.9" stroke-linecap="butt"/>
<line x1="149.30" y1="274.33" x2="154.30" y2="274.33" stroke="#161616" stroke-width="0.9" stroke-linecap="butt"/>
<line x1="191.80" y1="283.69" x2="191.80" y2="291.72" stroke="#161616" stroke-width="0.9" stroke-linecap="butt"/>
<line x1="189.30" y1="283.69" x2="194.30" y2="283.69" stroke="#161616" stroke-width="0.9" stroke-linecap="butt"/>
<line x1="189.30" y1="291.72" x2="194.30" y2="291.72" stroke="#161616" stroke-width="0.9" stroke-linecap="butt"/>
<line x1="71.30" y1="239.54" x2="71.30" y2="248.46" stroke="#161616" stroke-width="0.9" stroke-linecap="butt"/>
<line x1="68.80" y1="239.54" x2="73.80" y2="239.54" stroke="#161616" stroke-width="0.9" stroke-linecap="butt"/>
<line x1="68.80" y1="248.46" x2="73.80" y2="248.46" stroke="#161616" stroke-width="0.9" stroke-linecap="butt"/>
<line x1="111.60" y1="259.16" x2="111.60" y2="262.73" stroke="#161616" stroke-width="0.9" stroke-linecap="butt"/>
<line x1="109.10" y1="259.16" x2="114.10" y2="259.16" stroke="#161616" stroke-width="0.9" stroke-linecap="butt"/>
<line x1="109.10" y1="262.73" x2="114.10" y2="262.73" stroke="#161616" stroke-width="0.9" stroke-linecap="butt"/>
<line x1="151.80" y1="264.96" x2="151.80" y2="273.88" stroke="#161616" stroke-width="0.9" stroke-linecap="butt"/>
<line x1="149.30" y1="264.96" x2="154.30" y2="264.96" stroke="#161616" stroke-width="0.9" stroke-linecap="butt"/>
<line x1="149.30" y1="273.88" x2="154.30" y2="273.88" stroke="#161616" stroke-width="0.9" stroke-linecap="butt"/>
<line x1="191.80" y1="276.11" x2="191.80" y2="285.92" stroke="#161616" stroke-width="0.9" stroke-linecap="butt"/>
<line x1="189.30" y1="276.11" x2="194.30" y2="276.11" stroke="#161616" stroke-width="0.9" stroke-linecap="butt"/>
<line x1="189.30" y1="285.92" x2="194.30" y2="285.92" stroke="#161616" stroke-width="0.9" stroke-linecap="butt"/>
<polyline points="71.30,244.00 111.60,286.37 151.80,313.13 191.80,318.93" fill="none" stroke="#a4a4a4" stroke-width="1.2" stroke-linejoin="round"/>
<polyline points="71.30,244.00 111.60,263.18 151.80,280.13 191.80,308.22" fill="none" stroke="#666" stroke-width="1.3" stroke-linejoin="round"/>
<polyline points="71.30,244.00 111.60,261.84 151.80,269.87 191.80,287.71" fill="none" stroke="#161616" stroke-width="1.4" stroke-dasharray="3.2 1.8" stroke-linejoin="round"/>
<polyline points="71.30,244.00 111.60,260.95 151.80,269.42 191.80,281.02" fill="none" stroke="#161616" stroke-width="1.5" stroke-linejoin="round"/>
<polygon points="111.60,284.17 113.60,287.97 109.60,287.97" fill="#969696"/>
<polygon points="151.80,310.93 153.80,314.73 149.80,314.73" fill="#969696"/>
<polygon points="191.80,316.73 193.80,320.53 189.80,320.53" fill="#969696"/>
<rect x="109.70" y="261.28" width="3.8" height="3.8" fill="#666"/>
<rect x="149.90" y="278.23" width="3.8" height="3.8" fill="#666"/>
<rect x="189.90" y="306.32" width="3.8" height="3.8" fill="#666"/>
<polygon points="111.60,264.26 113.80,260.08 109.40,260.08" fill="#161616"/>
<polygon points="151.80,272.29 154.00,268.11 149.60,268.11" fill="#161616"/>
<polygon points="191.80,290.13 194.00,285.95 189.60,285.95" fill="#161616"/>
<circle cx="71.30" cy="244.00" r="1.7" fill="#161616"/>
<circle cx="111.60" cy="260.95" r="2.4" fill="#161616"/>
<circle cx="151.80" cy="269.42" r="2.4" fill="#161616"/>
<circle cx="191.80" cy="281.02" r="2.4" fill="#161616"/>
<line x1="203.20" y1="232.70" x2="216.40" y2="232.70" stroke="#161616" stroke-width="1.4" stroke-linecap="butt"/>
<circle cx="209.80" cy="232.70" r="2.5" fill="#161616"/>
<text font-size="8.4" x="222.5" y="235.7" fill="#111" stroke="#111" stroke-width="0.15" >pt-1</text>
<line x1="203.20" y1="245.20" x2="216.40" y2="245.20" stroke="#666" stroke-width="1.4" stroke-linecap="butt"/>
<rect x="207.90" y="243.30" width="3.8" height="3.8" fill="#666"/>
<text font-size="8.4" x="222.5" y="248.2" fill="#111" stroke="#111" stroke-width="0.15" >pt-2</text>
<line x1="203.20" y1="257.70" x2="216.40" y2="257.70" stroke="#a4a4a4" stroke-width="1.4" stroke-linecap="butt"/>
<polygon points="209.80,255.50 211.80,259.30 207.80,259.30" fill="#969696"/>
<text font-size="8.4" x="222.5" y="260.7" fill="#111" stroke="#111" stroke-width="0.15" >pt-3</text>
<line x1="203.20" y1="270.20" x2="216.40" y2="270.20" stroke="#161616" stroke-width="1.4" stroke-dasharray="3.2 1.8" stroke-linecap="butt"/>
<polygon points="209.80,272.29 211.70,268.68 207.90,268.68" fill="#161616"/>
<text font-size="8.4" x="222.5" y="273.2" fill="#111" stroke="#111" stroke-width="0.15" >pt-4</text>
<line x1="40.60" y1="434.40" x2="40.60" y2="542.00" stroke="#0a0a0a" stroke-width="1.3" stroke-linecap="butt"/>
<line x1="39.90" y1="541.30" x2="201.20" y2="541.30" stroke="#0a0a0a" stroke-width="1.4" stroke-linecap="butt"/>
<line x1="37.00" y1="541.30" x2="40.60" y2="541.30" stroke="#0a0a0a" stroke-width="1.1" stroke-linecap="butt"/>
<text font-size="8.1" font-weight="bold" text-anchor="end" transform="translate(36.6 544.6999999999999) scale(0.93 1)" fill="#050505" stroke="#050505" stroke-width="0.2" >0</text>
<line x1="37.00" y1="511.55" x2="40.60" y2="511.55" stroke="#0a0a0a" stroke-width="1.1" stroke-linecap="butt"/>
<text font-size="8.1" font-weight="bold" text-anchor="end" transform="translate(36.6 514.9499999999999) scale(0.93 1)" fill="#050505" stroke="#050505" stroke-width="0.2" >50</text>
<line x1="37.00" y1="481.80" x2="40.60" y2="481.80" stroke="#0a0a0a" stroke-width="1.1" stroke-linecap="butt"/>
<text font-size="8.1" font-weight="bold" text-anchor="end" transform="translate(36.6 485.19999999999993) scale(0.93 1)" fill="#050505" stroke="#050505" stroke-width="0.2" >100</text>
<line x1="37.00" y1="452.05" x2="40.60" y2="452.05" stroke="#0a0a0a" stroke-width="1.1" stroke-linecap="butt"/>
<text font-size="8.1" font-weight="bold" text-anchor="end" transform="translate(36.6 455.44999999999993) scale(0.93 1)" fill="#050505" stroke="#050505" stroke-width="0.2" >150</text>
<line x1="53.95" y1="475.85" x2="53.95" y2="481.80" stroke="#0a0a0a" stroke-width="1.2" stroke-linecap="butt"/>
<line x1="50.20" y1="475.85" x2="57.70" y2="475.85" stroke="#0a0a0a" stroke-width="1.2" stroke-linecap="butt"/>
<line x1="50.20" y1="481.80" x2="57.70" y2="481.80" stroke="#0a0a0a" stroke-width="1.2" stroke-linecap="butt"/>
<rect x="47.10" y="481.80" width="13.7" height="59.50" fill="#2b2b2b" stroke="#0a0a0a" stroke-width="1.2"/>
<line x1="53.95" y1="481.80" x2="53.95" y2="487.75" stroke="#000" stroke-width="1.2" stroke-linecap="butt"/>
<line x1="50.20" y1="487.75" x2="57.70" y2="487.75" stroke="#000" stroke-width="1.2" stroke-linecap="butt"/>
<line x1="67.65" y1="443.78" x2="67.65" y2="447.53" stroke="#0a0a0a" stroke-width="1.2" stroke-linecap="butt"/>
<line x1="63.90" y1="443.78" x2="71.40" y2="443.78" stroke="#0a0a0a" stroke-width="1.2" stroke-linecap="butt"/>
<line x1="63.90" y1="447.53" x2="71.40" y2="447.53" stroke="#0a0a0a" stroke-width="1.2" stroke-linecap="butt"/>
<rect x="60.80" y="447.53" width="13.7" height="93.77" fill="#9c9c9c" stroke="#0a0a0a" stroke-width="1.2"/>
<line x1="67.65" y1="447.53" x2="67.65" y2="451.28" stroke="#000" stroke-width="1.2" stroke-linecap="butt"/>
<line x1="63.90" y1="451.28" x2="71.40" y2="451.28" stroke="#000" stroke-width="1.2" stroke-linecap="butt"/>
<line x1="81.35" y1="536.54" x2="81.35" y2="540.70" stroke="#0a0a0a" stroke-width="1.2" stroke-linecap="butt"/>
<line x1="77.60" y1="536.54" x2="85.10" y2="536.54" stroke="#0a0a0a" stroke-width="1.2" stroke-linecap="butt"/>
<line x1="77.60" y1="540.70" x2="85.10" y2="540.70" stroke="#0a0a0a" stroke-width="1.2" stroke-linecap="butt"/>
<rect x="74.50" y="540.70" width="13.7" height="0.60" fill="#fff" stroke="#0a0a0a" stroke-width="1.2"/>
<line x1="67.65" y1="541.30" x2="67.65" y2="544.50" stroke="#0a0a0a" stroke-width="1.3" stroke-linecap="butt"/>
<text font-size="8.1" font-weight="bold" text-anchor="middle" x="67.25" y="552.6999999999999" fill="#111" stroke="#111" stroke-width="0.2" >0</text>
<line x1="107.45" y1="509.47" x2="107.45" y2="509.76" stroke="#0a0a0a" stroke-width="1.2" stroke-linecap="butt"/>
<line x1="103.70" y1="509.47" x2="111.20" y2="509.47" stroke="#0a0a0a" stroke-width="1.2" stroke-linecap="butt"/>
<line x1="103.70" y1="509.76" x2="111.20" y2="509.76" stroke="#0a0a0a" stroke-width="1.2" stroke-linecap="butt"/>
<rect x="100.60" y="509.76" width="13.7" height="31.54" fill="#2b2b2b" stroke="#0a0a0a" stroke-width="1.2"/>
<line x1="121.15" y1="480.91" x2="121.15" y2="481.80" stroke="#0a0a0a" stroke-width="1.2" stroke-linecap="butt"/>
<line x1="117.40" y1="480.91" x2="124.90" y2="480.91" stroke="#0a0a0a" stroke-width="1.2" stroke-linecap="butt"/>
<line x1="117.40" y1="481.80" x2="124.90" y2="481.80" stroke="#0a0a0a" stroke-width="1.2" stroke-linecap="butt"/>
<rect x="114.30" y="481.80" width="13.7" height="59.50" fill="#9c9c9c" stroke="#0a0a0a" stroke-width="1.2"/>
<line x1="121.15" y1="481.80" x2="121.15" y2="482.69" stroke="#000" stroke-width="1.2" stroke-linecap="butt"/>
<line x1="117.40" y1="482.69" x2="124.90" y2="482.69" stroke="#000" stroke-width="1.2" stroke-linecap="butt"/>
<line x1="134.85" y1="536.90" x2="134.85" y2="541.06" stroke="#0a0a0a" stroke-width="1.2" stroke-linecap="butt"/>
<line x1="131.10" y1="536.90" x2="138.60" y2="536.90" stroke="#0a0a0a" stroke-width="1.2" stroke-linecap="butt"/>
<line x1="131.10" y1="541.06" x2="138.60" y2="541.06" stroke="#0a0a0a" stroke-width="1.2" stroke-linecap="butt"/>
<rect x="128.00" y="541.06" width="13.7" height="0.24" fill="#fff" stroke="#0a0a0a" stroke-width="1.2"/>
<line x1="121.15" y1="541.30" x2="121.15" y2="544.50" stroke="#0a0a0a" stroke-width="1.3" stroke-linecap="butt"/>
<text font-size="8.1" font-weight="bold" text-anchor="middle" x="120.74999999999999" y="552.6999999999999" fill="#111" stroke="#111" stroke-width="0.2" >2</text>
<line x1="160.75" y1="524.34" x2="160.75" y2="528.21" stroke="#0a0a0a" stroke-width="1.2" stroke-linecap="butt"/>
<line x1="157.00" y1="524.34" x2="164.50" y2="524.34" stroke="#0a0a0a" stroke-width="1.2" stroke-linecap="butt"/>
<line x1="157.00" y1="528.21" x2="164.50" y2="528.21" stroke="#0a0a0a" stroke-width="1.2" stroke-linecap="butt"/>
<rect x="153.90" y="528.21" width="13.7" height="13.09" fill="#2b2b2b" stroke="#0a0a0a" stroke-width="1.2"/>
<line x1="160.75" y1="528.21" x2="160.75" y2="532.08" stroke="#000" stroke-width="1.2" stroke-linecap="butt"/>
<line x1="157.00" y1="532.08" x2="164.50" y2="532.08" stroke="#000" stroke-width="1.2" stroke-linecap="butt"/>
<line x1="174.45" y1="514.35" x2="174.45" y2="515.12" stroke="#0a0a0a" stroke-width="1.2" stroke-linecap="butt"/>
<line x1="170.70" y1="514.35" x2="178.20" y2="514.35" stroke="#0a0a0a" stroke-width="1.2" stroke-linecap="butt"/>
<line x1="170.70" y1="515.12" x2="178.20" y2="515.12" stroke="#0a0a0a" stroke-width="1.2" stroke-linecap="butt"/>
<rect x="167.60" y="515.12" width="13.7" height="26.18" fill="#9c9c9c" stroke="#0a0a0a" stroke-width="1.2"/>
<line x1="174.45" y1="515.12" x2="174.45" y2="515.89" stroke="#000" stroke-width="1.2" stroke-linecap="butt"/>
<line x1="170.70" y1="515.89" x2="178.20" y2="515.89" stroke="#000" stroke-width="1.2" stroke-linecap="butt"/>
<line x1="188.15" y1="536.90" x2="188.15" y2="541.06" stroke="#0a0a0a" stroke-width="1.2" stroke-linecap="butt"/>
<line x1="184.40" y1="536.90" x2="191.90" y2="536.90" stroke="#0a0a0a" stroke-width="1.2" stroke-linecap="butt"/>
<line x1="184.40" y1="541.06" x2="191.90" y2="541.06" stroke="#0a0a0a" stroke-width="1.2" stroke-linecap="butt"/>
<rect x="181.30" y="541.06" width="13.7" height="0.24" fill="#fff" stroke="#0a0a0a" stroke-width="1.2"/>
<line x1="174.45" y1="541.30" x2="174.45" y2="544.50" stroke="#0a0a0a" stroke-width="1.3" stroke-linecap="butt"/>
<text font-size="8.1" font-weight="bold" text-anchor="middle" x="174.04999999999998" y="552.6999999999999" fill="#111" stroke="#111" stroke-width="0.2" >4</text>
<text font-size="9.05" font-weight="bold" text-anchor="middle" x="120.8" y="565.2" fill="#111" stroke="#111" stroke-width="0.2" >ACY-1215 <tspan font-family="'Liberation Serif', 'DejaVu Serif', serif" font-weight="normal">μ</tspan>M</text>
<text font-size="8.5" font-weight="bold" text-anchor="middle" transform="translate(10.7 488.2) rotate(-90)" fill="#111" stroke="#111" stroke-width="0.2" ><tspan font-size="5.6" dy="-3">3</tspan><tspan dy="3">H(dT) uptake</tspan></text>
<text font-size="8.45" font-weight="bold" text-anchor="middle" transform="translate(22.4 486.9) rotate(-90)" fill="#111" stroke="#111" stroke-width="0.2" >(% control)</text>
<rect x="159.8" y="438.20" width="13" height="7.2" fill="#2b2b2b" stroke="#0a0a0a" stroke-width="1"/>
<text font-size="8.7" x="178.6" y="445.0" fill="#111" stroke="#111" stroke-width="0.15" >MM1.S</text>
<rect x="159.8" y="450.30" width="13" height="7.2" fill="#9c9c9c" stroke="#0a0a0a" stroke-width="1"/>
<text font-size="8.7" x="178.6" y="457.1" fill="#111" stroke="#111" stroke-width="0.15" >MM.1S+BMSCS</text>
<rect x="159.8" y="462.40" width="13" height="7.2" fill="#fff" stroke="#0a0a0a" stroke-width="1"/>
<text font-size="8.7" x="178.6" y="469.2" fill="#111" stroke="#111" stroke-width="0.15" >BMSCS</text>
<line x1="294.30" y1="434.30" x2="294.30" y2="542.00" stroke="#0a0a0a" stroke-width="1.3" stroke-linecap="butt"/>
<line x1="293.60" y1="541.30" x2="455.50" y2="541.30" stroke="#0a0a0a" stroke-width="1.4" stroke-linecap="butt"/>
<line x1="290.70" y1="541.30" x2="294.30" y2="541.30" stroke="#0a0a0a" stroke-width="1.1" stroke-linecap="butt"/>
<text font-size="8.1" font-weight="bold" text-anchor="end" transform="translate(290.3 544.6999999999999) scale(0.93 1)" fill="#050505" stroke="#050505" stroke-width="0.2" >0</text>
<line x1="290.70" y1="503.25" x2="294.30" y2="503.25" stroke="#0a0a0a" stroke-width="1.1" stroke-linecap="butt"/>
<text font-size="8.1" font-weight="bold" text-anchor="end" transform="translate(290.3 506.6499999999999) scale(0.93 1)" fill="#050505" stroke="#050505" stroke-width="0.2" >50</text>
<line x1="290.70" y1="465.20" x2="294.30" y2="465.20" stroke="#0a0a0a" stroke-width="1.1" stroke-linecap="butt"/>
<text font-size="8.1" font-weight="bold" text-anchor="end" transform="translate(290.3 468.5999999999999) scale(0.93 1)" fill="#050505" stroke="#050505" stroke-width="0.2" >100</text>
<line x1="307.38" y1="464.06" x2="307.38" y2="465.20" stroke="#0a0a0a" stroke-width="1.2" stroke-linecap="butt"/>
<line x1="303.62" y1="464.06" x2="311.12" y2="464.06" stroke="#0a0a0a" stroke-width="1.2" stroke-linecap="butt"/>
<line x1="303.62" y1="465.20" x2="311.12" y2="465.20" stroke="#0a0a0a" stroke-width="1.2" stroke-linecap="butt"/>
<rect x="300.60" y="465.20" width="13.55" height="76.10" fill="#8c8c8c" stroke="#0a0a0a" stroke-width="1.2"/>
<line x1="307.38" y1="465.20" x2="307.38" y2="466.34" stroke="#000" stroke-width="1.2" stroke-linecap="butt"/>
<line x1="303.62" y1="466.34" x2="311.12" y2="466.34" stroke="#000" stroke-width="1.2" stroke-linecap="butt"/>
<line x1="320.93" y1="444.27" x2="320.93" y2="449.60" stroke="#0a0a0a" stroke-width="1.2" stroke-linecap="butt"/>
<line x1="317.18" y1="444.27" x2="324.68" y2="444.27" stroke="#0a0a0a" stroke-width="1.2" stroke-linecap="butt"/>
<line x1="317.18" y1="449.60" x2="324.68" y2="449.60" stroke="#0a0a0a" stroke-width="1.2" stroke-linecap="butt"/>
<rect x="314.15" y="449.60" width="13.55" height="91.70" fill="#3a3a3a" stroke="#0a0a0a" stroke-width="1.2"/>
<line x1="320.93" y1="449.60" x2="320.93" y2="454.93" stroke="#000" stroke-width="1.2" stroke-linecap="butt"/>
<line x1="317.18" y1="454.93" x2="324.68" y2="454.93" stroke="#000" stroke-width="1.2" stroke-linecap="butt"/>
<line x1="334.48" y1="439.40" x2="334.48" y2="443.59" stroke="#0a0a0a" stroke-width="1.2" stroke-linecap="butt"/>
<line x1="330.73" y1="439.40" x2="338.23" y2="439.40" stroke="#0a0a0a" stroke-width="1.2" stroke-linecap="butt"/>
<line x1="330.73" y1="443.59" x2="338.23" y2="443.59" stroke="#0a0a0a" stroke-width="1.2" stroke-linecap="butt"/>
<rect x="327.70" y="443.59" width="13.55" height="97.71" fill="#fff" stroke="#0a0a0a" stroke-width="1.2"/>
<line x1="334.48" y1="443.59" x2="334.48" y2="447.77" stroke="#000" stroke-width="1.2" stroke-linecap="butt"/>
<line x1="330.73" y1="447.77" x2="338.23" y2="447.77" stroke="#000" stroke-width="1.2" stroke-linecap="butt"/>
<line x1="320.93" y1="541.30" x2="320.93" y2="544.50" stroke="#0a0a0a" stroke-width="1.3" stroke-linecap="butt"/>
<text font-size="8.1" font-weight="bold" text-anchor="middle" x="320.725" y="552.6999999999999" fill="#111" stroke="#111" stroke-width="0.2" >0</text>
<line x1="361.27" y1="497.92" x2="361.27" y2="506.29" stroke="#0a0a0a" stroke-width="1.2" stroke-linecap="butt"/>
<line x1="357.52" y1="497.92" x2="365.02" y2="497.92" stroke="#0a0a0a" stroke-width="1.2" stroke-linecap="butt"/>
<line x1="357.52" y1="506.29" x2="365.02" y2="506.29" stroke="#0a0a0a" stroke-width="1.2" stroke-linecap="butt"/>
<rect x="354.50" y="506.29" width="13.55" height="35.01" fill="#8c8c8c" stroke="#0a0a0a" stroke-width="1.2"/>
<line x1="361.27" y1="506.29" x2="361.27" y2="514.66" stroke="#000" stroke-width="1.2" stroke-linecap="butt"/>
<line x1="357.52" y1="514.66" x2="365.02" y2="514.66" stroke="#000" stroke-width="1.2" stroke-linecap="butt"/>
<line x1="374.82" y1="508.58" x2="374.82" y2="516.19" stroke="#0a0a0a" stroke-width="1.2" stroke-linecap="butt"/>
<line x1="371.07" y1="508.58" x2="378.57" y2="508.58" stroke="#0a0a0a" stroke-width="1.2" stroke-linecap="butt"/>
<line x1="371.07" y1="516.19" x2="378.57" y2="516.19" stroke="#0a0a0a" stroke-width="1.2" stroke-linecap="butt"/>
<rect x="368.05" y="516.19" width="13.55" height="25.11" fill="#3a3a3a" stroke="#0a0a0a" stroke-width="1.2"/>
<line x1="374.82" y1="516.19" x2="374.82" y2="523.80" stroke="#000" stroke-width="1.2" stroke-linecap="butt"/>
<line x1="371.07" y1="523.80" x2="378.57" y2="523.80" stroke="#000" stroke-width="1.2" stroke-linecap="butt"/>
<line x1="388.38" y1="503.40" x2="388.38" y2="505.53" stroke="#0a0a0a" stroke-width="1.2" stroke-linecap="butt"/>
<line x1="384.62" y1="503.40" x2="392.12" y2="503.40" stroke="#0a0a0a" stroke-width="1.2" stroke-linecap="butt"/>
<line x1="384.62" y1="505.53" x2="392.12" y2="505.53" stroke="#0a0a0a" stroke-width="1.2" stroke-linecap="butt"/>
<rect x="381.60" y="505.53" width="13.55" height="35.77" fill="#fff" stroke="#0a0a0a" stroke-width="1.2"/>
<line x1="388.38" y1="505.53" x2="388.38" y2="507.66" stroke="#000" stroke-width="1.2" stroke-linecap="butt"/>
<line x1="384.62" y1="507.66" x2="392.12" y2="507.66" stroke="#000" stroke-width="1.2" stroke-linecap="butt"/>
<line x1="374.82" y1="541.30" x2="374.82" y2="544.50" stroke="#0a0a0a" stroke-width="1.3" stroke-linecap="butt"/>
<text font-size="8.1" font-weight="bold" text-anchor="middle" x="374.625" y="552.6999999999999" fill="#111" stroke="#111" stroke-width="0.2" >2</text>
<line x1="415.07" y1="526.38" x2="415.07" y2="530.19" stroke="#0a0a0a" stroke-width="1.2" stroke-linecap="butt"/>
<line x1="411.32" y1="526.38" x2="418.82" y2="526.38" stroke="#0a0a0a" stroke-width="1.2" stroke-linecap="butt"/>
<line x1="411.32" y1="530.19" x2="418.82" y2="530.19" stroke="#0a0a0a" stroke-width="1.2" stroke-linecap="butt"/>
<rect x="408.30" y="530.19" width="13.55" height="11.11" fill="#8c8c8c" stroke="#0a0a0a" stroke-width="1.2"/>
<line x1="415.07" y1="530.19" x2="415.07" y2="533.99" stroke="#000" stroke-width="1.2" stroke-linecap="butt"/>
<line x1="411.32" y1="533.99" x2="418.82" y2="533.99" stroke="#000" stroke-width="1.2" stroke-linecap="butt"/>
<line x1="428.62" y1="529.35" x2="428.62" y2="529.66" stroke="#0a0a0a" stroke-width="1.2" stroke-linecap="butt"/>
<line x1="424.88" y1="529.35" x2="432.38" y2="529.35" stroke="#0a0a0a" stroke-width="1.2" stroke-linecap="butt"/>
<line x1="424.88" y1="529.66" x2="432.38" y2="529.66" stroke="#0a0a0a" stroke-width="1.2" stroke-linecap="butt"/>
<rect x="421.85" y="529.66" width="13.55" height="11.64" fill="#3a3a3a" stroke="#0a0a0a" stroke-width="1.2"/>
<line x1="442.18" y1="526.31" x2="442.18" y2="528.82" stroke="#0a0a0a" stroke-width="1.2" stroke-linecap="butt"/>
<line x1="438.43" y1="526.31" x2="445.93" y2="526.31" stroke="#0a0a0a" stroke-width="1.2" stroke-linecap="butt"/>
<line x1="438.43" y1="528.82" x2="445.93" y2="528.82" stroke="#0a0a0a" stroke-width="1.2" stroke-linecap="butt"/>
<rect x="435.40" y="528.82" width="13.55" height="12.48" fill="#fff" stroke="#0a0a0a" stroke-width="1.2"/>
<line x1="442.18" y1="528.82" x2="442.18" y2="531.33" stroke="#000" stroke-width="1.2" stroke-linecap="butt"/>
<line x1="438.43" y1="531.33" x2="445.93" y2="531.33" stroke="#000" stroke-width="1.2" stroke-linecap="butt"/>
<line x1="428.62" y1="541.30" x2="428.62" y2="544.50" stroke="#0a0a0a" stroke-width="1.3" stroke-linecap="butt"/>
<text font-size="8.1" font-weight="bold" text-anchor="middle" x="428.425" y="552.6999999999999" fill="#111" stroke="#111" stroke-width="0.2" >4</text>
<text font-size="9.0" font-weight="bold" text-anchor="middle" x="375.3" y="565.2" fill="#111" stroke="#111" stroke-width="0.2" >ACY-1215 <tspan font-family="'Liberation Serif', 'DejaVu Serif', serif" font-weight="normal">μ</tspan>M</text>
<text font-size="8.5" font-weight="bold" text-anchor="middle" transform="translate(260.7 488) rotate(-90)" fill="#111" stroke="#111" stroke-width="0.2" ><tspan font-size="5.6" dy="-3">3</tspan><tspan dy="3">H(dT) uptake</tspan></text>
<text font-size="8.45" font-weight="bold" text-anchor="middle" transform="translate(272.3 486.9) rotate(-90)" fill="#111" stroke="#111" stroke-width="0.2" >(% control)</text>
<rect x="411.3" y="438.60" width="12.3" height="7" fill="#8c8c8c" stroke="#0a0a0a" stroke-width="1"/>
<text font-size="8.7" x="429.3" y="445.20000000000005" fill="#111" stroke="#111" stroke-width="0.15" >MM.1S</text>
<rect x="411.3" y="450.40" width="12.3" height="7" fill="#3a3a3a" stroke="#0a0a0a" stroke-width="1"/>
<text font-size="8.7" x="429.3" y="457.00000000000006" fill="#111" stroke="#111" stroke-width="0.15" >MM.1S +IL-6 10ng/ml</text>
<rect x="411.3" y="462.20" width="12.3" height="7" fill="#fff" stroke="#0a0a0a" stroke-width="1"/>
<text font-size="8.7" x="429.3" y="468.80000000000007" fill="#111" stroke="#111" stroke-width="0.15" >MM.1S+IGF-1 50ng/ml</text>
</svg>
</body>
</html>
